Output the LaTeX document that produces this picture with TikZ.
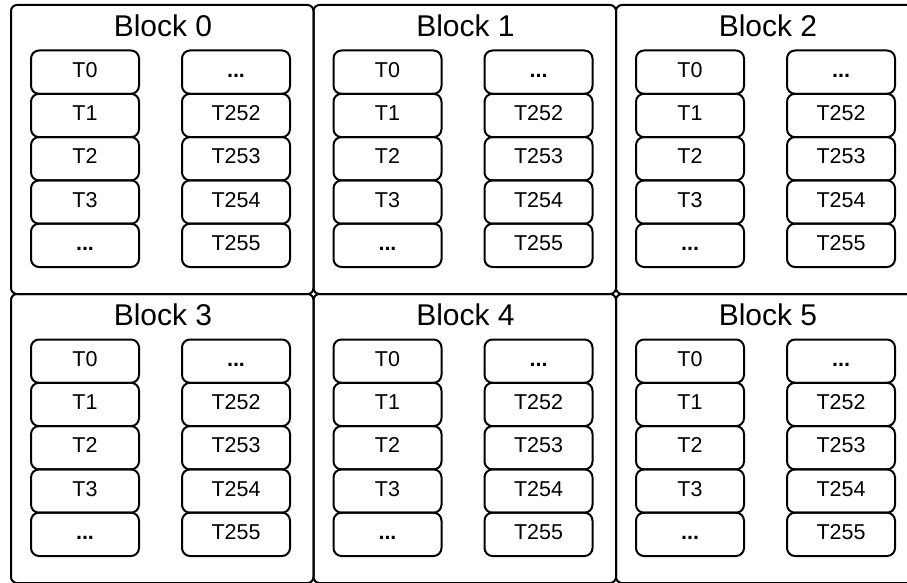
\documentclass[tikz,border=0pt]{standalone}
\usepackage{fontspec}
\setmainfont{Liberation Sans}
\newcommand{\celldots}{\textbf{...}}
\begin{document}
\begin{tikzpicture}[x=1pt,y=-1pt,
  blockbox/.style={draw, line width=2pt, rounded corners=6pt, inner sep=0pt, minimum width=302.5pt, minimum height=289pt, anchor=north west},
  cell/.style={draw, line width=2pt, rounded corners=8pt, minimum width=108pt, minimum height=43.3pt, inner sep=0pt, text height=15pt, text depth=5pt, font=\fontsize{21.5}{22}\selectfont},
  blocktitle/.style={font=\fontsize{30}{30}\selectfont, inner sep=0pt, text height=21.5pt, text depth=0pt}]
\useasboundingbox (0,0) rectangle (907,583);
\clip (0,0) rectangle (907,583);
\foreach \k in {0,1,2,3,4,5}{
  \pgfmathsetmacro{\col}{int(mod(\k,3))}
  \pgfmathsetmacro{\row}{int(\k/3)}
  \pgfmathsetmacro{\bx}{10+302.5*\col}
  \pgfmathsetmacro{\by}{4+289*\row}
  \node[blockbox] (b\k) at (\bx,\by) {};
  \node[blocktitle] (t\k) at (\bx+153,\by+22) {Block \k};
  \foreach \r/\lt/\rt in {0/T0/\celldots,1/T1/T252,2/T2/T253,3/T3/T254,4/\celldots/T255}{
    \node[cell] (c\k l\r) at (\bx+75,\by+46.5+43.3*\r+21.65) {\lt};
    \node[cell] (c\k r\r) at (\bx+226,\by+46.5+43.3*\r+21.65) {\rt};
  }
}
\end{tikzpicture}
\end{document}
